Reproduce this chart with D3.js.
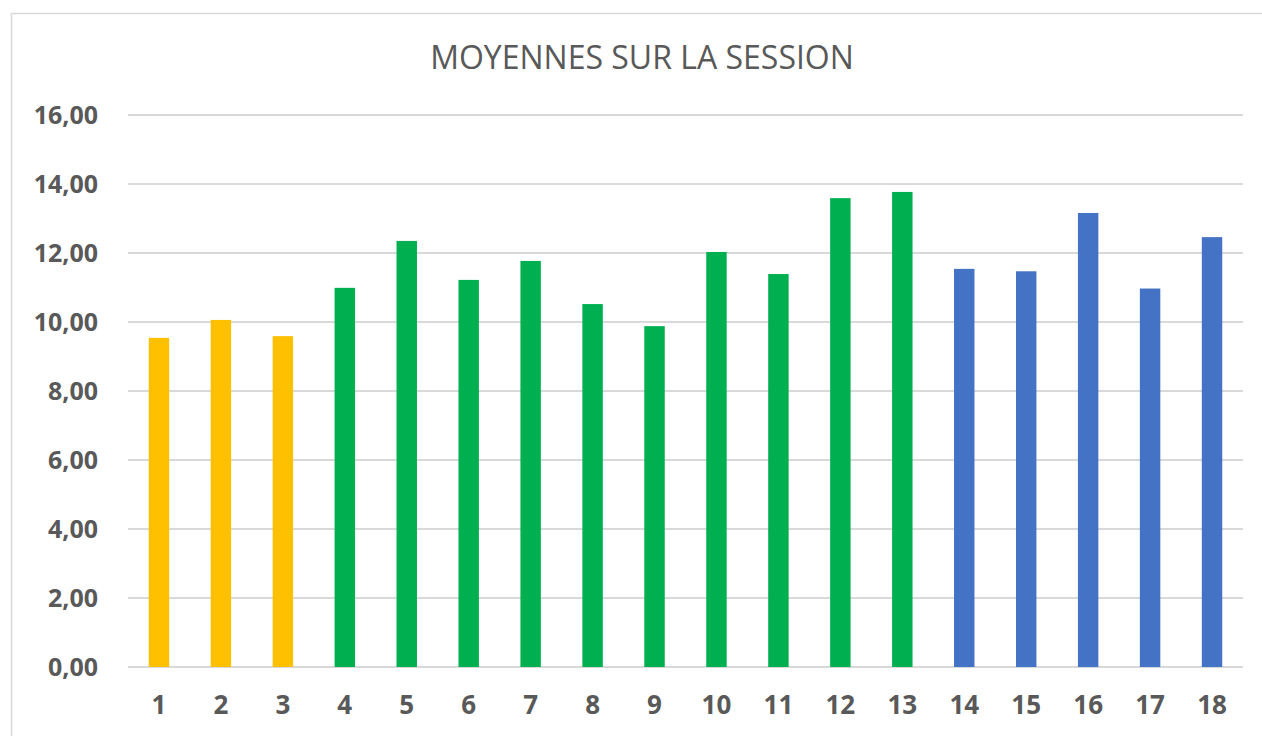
<!DOCTYPE html>
<html>
<head>
<meta charset="utf-8">
<script src="https://cdn.jsdelivr.net/npm/d3@7"></script>
<style>
  body { margin: 0; background: #fff; }
  text { fill: #595959; }
</style>
</head>
<body>
<div id="chart"></div>
<script>
(function () {
    // data
    var categories = ["1", "2", "3", "4", "5", "6", "7", "8", "9", "10", "11", "12", "13", "14", "15", "16", "17", "18"];
    var moyennes = [9.54, 10.06, 9.59, 10.99, 12.35, 11.22, 11.77, 10.52, 9.88, 12.03, 11.39, 13.59, 13.77, 11.54, 11.47, 13.16, 10.97, 12.46];
    var groupOf = ["a", "a", "a", "b", "b", "b", "b", "b", "b", "b", "b", "b", "b", "c", "c", "c", "c", "c"];
    var yTicks = [0, 2, 4, 6, 8, 10, 12, 14, 16];
    var title = "MOYENNES SUR LA SESSION";

    var width = 1262, height = 736;
    var colors = { a: "#FFC000", b: "#00B050", c: "#4472C4" };

    var svg = d3.select("#chart")
        .append("svg")
        .attr("width", width)
        .attr("height", height);

    // chart area border (runs off the right and bottom)
    svg.append("rect")
        .attr("x", 11.5)
        .attr("y", 13.5)
        .attr("width", width + 20)
        .attr("height", height + 20)
        .style("fill", "none")
        .attr("stroke", "#d9d9d9")
        .attr("stroke-width", 1.5);

    var x = d3.scaleBand()
        .domain(categories)
        .range([128, 1243])
        .paddingInner(0.67)
        .paddingOuter(0.335);

    var y = d3.scaleLinear()
        .domain([0, 16])
        .range([667, 115]);

    // gridlines
    svg.append("g")
        .selectAll("line")
        .data(yTicks)
        .enter().append("line")
        .attr("x1", 128)
        .attr("x2", 1243)
        .attr("y1", function (d) { return y(d); })
        .attr("y2", function (d) { return y(d); })
        .attr("stroke", "#d9d9d9")
        .attr("stroke-width", 2);

    // y labels
    var yAxis = d3.axisLeft(y)
        .tickValues(yTicks)
        .tickSize(0)
        .tickPadding(30)
        .tickFormat(function (d) { return d3.format(".2f")(d).replace(".", ","); });

    var gy = svg.append("g")
        .attr("transform", "translate(128,0)")
        .call(yAxis);
    gy.select(".domain").remove();
    gy.selectAll("text")
        .style("font-family", "'Open Sans', sans-serif")
        .style("font-weight", "bold")
        .style("font-size", "25px")
        .attr("dy", "0.35em")
        .style("fill", "#595959");

    // bars
    svg.append("g")
        .selectAll("rect")
        .data(moyennes)
        .enter().append("rect")
        .attr("x", function (d, i) { return x(categories[i]); })
        .attr("width", x.bandwidth())
        .attr("y", function (d) { return y(d); })
        .attr("height", function (d) { return y(0) - y(d); })
        .style("fill", function (d, i) { return colors[groupOf[i]]; });

    // x labels
    var xAxis = d3.axisBottom(x).tickSize(0).tickPadding(29);
    var gx = svg.append("g")
        .attr("transform", "translate(0," + y(0) + ")")
        .call(xAxis);
    gx.select(".domain").remove();
    gx.selectAll("text")
        .style("font-family", "'Open Sans', sans-serif")
        .style("font-weight", "bold")
        .style("font-size", "26px")
        .style("fill", "#595959");

    // title
    svg.append("text")
        .attr("x", 642)
        .attr("y", 69)
        .style("text-anchor", "middle")
        .style("font-family", "'Open Sans', sans-serif")
        .style("font-size", "32px")
        .style("fill", "#595959")
        .text(title);
})();
</script>
</body>
</html>
